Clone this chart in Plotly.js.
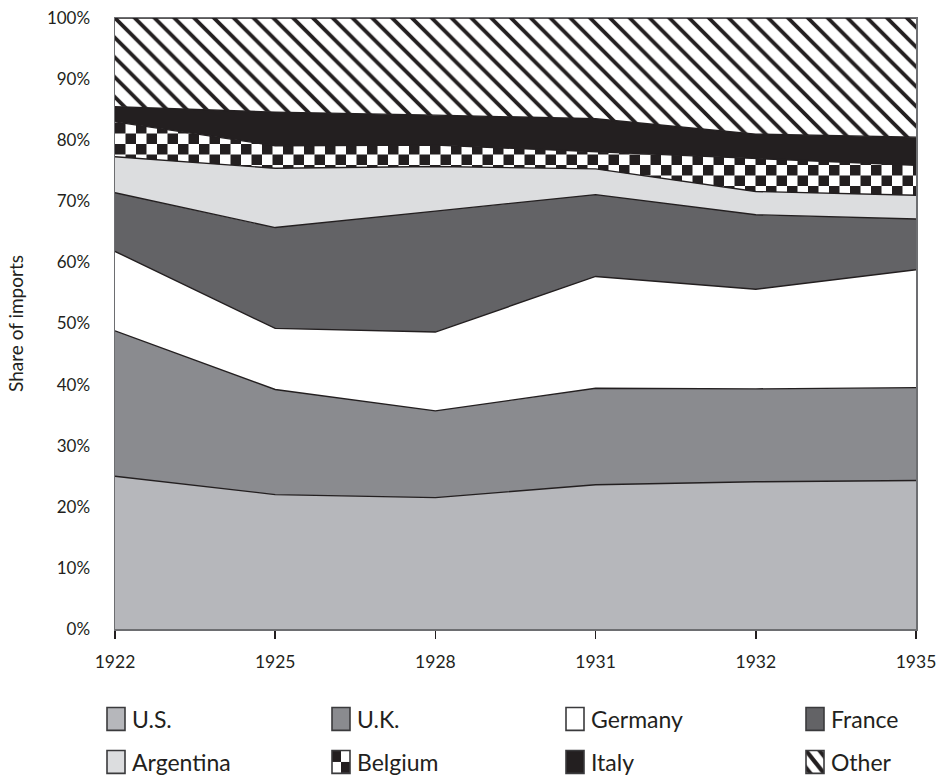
<!DOCTYPE html>
<html><head><meta charset="utf-8">
<script src="https://cdn.plot.ly/plotly-3.0.1.min.js"></script>
<style>html,body{margin:0;padding:0;background:#fff}#chart{width:936px;height:779px}</style>
</head><body><div id="chart"></div>
<script>
const years = ['1922', '1925', '1928', '1931', '1932', '1935'];
const seriesNames = ['U.S.', 'U.K.', 'Germany', 'France', 'Argentina', 'Belgium', 'Italy', 'Other'];
const us        = [25.0, 22.0, 21.5, 23.6, 24.1, 24.3];
const uk        = [23.8, 17.2, 14.2, 15.8, 15.2, 15.2];
const germany   = [13.0, 10.0, 12.9, 18.3, 16.3, 19.3];
const france    = [ 9.6, 16.5, 19.8, 13.4, 12.2,  8.3];
const argentina = [ 5.9,  9.7,  7.3,  4.2,  3.8,  3.9];
const belgium   = [ 5.7,  3.7,  3.5,  2.8,  5.5,  4.9];
const italy     = [ 2.5,  5.5,  4.9,  5.4,  3.9,  4.6];
const other     = [14.5, 15.4, 15.9, 16.5, 19.0, 19.5];
const yTickVals = [0, 10, 20, 30, 40, 50, 60, 70, 80, 90, 100];
const yTickText = ['0%', '10%', '20%', '30%', '40%', '50%', '60%', '70%', '80%', '90%', '100%'];

const seriesValues = [us, uk, germany, france, argentina, belgium, italy, other];
const INK = '#231f20';
const CHECK_KEY = 'rgb(1, 2, 3)';
const fills = ['#b6b7bb', '#8a8b8f', '#ffffff', '#636366', '#dcdddf', CHECK_KEY, INK, '#ffffff'];
const FONT = 'Lato, "Open Sans", sans-serif';

const traces = [];
seriesValues.forEach((vals, i) => {
  const t = {
    type: 'scatter', mode: 'lines', x: years, y: vals, name: seriesNames[i],
    stackgroup: 'one', fillcolor: fills[i],
    line: {color: INK, width: 1.4},
    showlegend: false, hoverinfo: 'skip'
  };
  if (i === 7) {
    t.fillpattern = {shape: '\\', size: 14, solidity: 0.27, fgcolor: INK, bgcolor: '#ffffff', fillmode: 'replace'};
  }
  traces.push(t);
});

// legend entries (4 columns x 2 rows)
const colPx = [92, 317, 551, 791];
const rowPx = [719, 762];
const plotL = 115, plotR = 916, plotT = 18, plotB = 629;
const layoutLegends = {};
seriesNames.forEach((nm, i) => {
  const key = i === 0 ? 'legend' : 'legend' + (i + 1);
  const bar = {
    type: 'bar', x: [years[0]], y: [null], name: nm, legend: key, showlegend: true,
    hoverinfo: 'skip',
    marker: {color: fills[i], line: {color: '#3a3a3c', width: 1.6}}
  };
  if (i === 7) {
    bar.marker.pattern = {shape: '\\', size: 8, solidity: 0.4, fgcolor: INK, bgcolor: '#ffffff', fillmode: 'replace'};
  }
  traces.push(bar);
  const col = i % 4, row = Math.floor(i / 4);
  layoutLegends[key] = {
    x: (colPx[col] - plotL) / (plotR - plotL),
    y: (plotB - rowPx[row]) / (plotB - plotT),
    xanchor: 'left', yanchor: 'middle',
    bgcolor: 'rgba(0,0,0,0)', borderwidth: 0,
    font: {family: FONT, size: 23, color: INK}
  };
});

const layout = Object.assign({
  width: 936, height: 779,
  margin: {l: plotL, r: 936 - plotR, t: plotT, b: 779 - plotB, autoexpand: false},
  paper_bgcolor: '#ffffff', plot_bgcolor: '#ffffff',
  font: {family: FONT, color: INK},
  xaxis: {
    type: 'category', range: [0, years.length - 1],
    showgrid: false, zeroline: false, automargin: false,
    showline: true, mirror: true, linecolor: '#6d6e71', linewidth: 1.5,
    ticks: 'outside', ticklen: 8, tickwidth: 1.5, tickcolor: INK,
    ticklabelstandoff: 8,
    tickfont: {family: FONT, size: 17.5, color: INK}
  },
  yaxis: {
    range: [0, 100], tickvals: yTickVals, ticktext: yTickText,
    showgrid: false, zeroline: false, automargin: false,
    showline: true, mirror: true, linecolor: '#6d6e71', linewidth: 1.5,
    ticks: '', ticklabelstandoff: 20,
    tickfont: {family: FONT, size: 17, color: INK},
    title: {text: 'Share of imports', font: {family: FONT, size: 19, color: INK}, standoff: 18}
  },
  showlegend: true
}, layoutLegends);

function applyStyling(gd) {
  const ns = 'http://www.w3.org/2000/svg';
  const svg = gd.querySelector('svg.main-svg');
  let defs = svg.querySelector('defs');
  if (!defs) { defs = document.createElementNS(ns, 'defs'); svg.insertBefore(defs, svg.firstChild); }
  function checker(id, cell) {
    if (document.getElementById(id)) return;
    const p = document.createElementNS(ns, 'pattern');
    p.setAttribute('id', id);
    p.setAttribute('patternUnits', 'userSpaceOnUse');
    p.setAttribute('width', 2 * cell); p.setAttribute('height', 2 * cell);
    const rects = [[0, 0, '#ffffff', 2 * cell], [0, 0, INK, cell], [cell, cell, INK, cell]];
    rects.forEach(r => {
      const e = document.createElementNS(ns, 'rect');
      e.setAttribute('x', r[0]); e.setAttribute('y', r[1]);
      e.setAttribute('width', r[3]); e.setAttribute('height', r[3]);
      e.setAttribute('fill', r[2]);
      p.appendChild(e);
    });
    defs.appendChild(p);
  }
  checker('chkArea', 10.5);
  checker('chkLegend', 6);
  gd.querySelectorAll('g.legendpoints path').forEach(p => {
    if (!p.getAttribute('d')) return;
    if (p.dataset.leg !== '1') {
      const orig = p.getAttribute('transform') || '';
      p.setAttribute('transform', orig + ' translate(4,0) scale(1.5,1.9)');
      p.style.vectorEffect = 'non-scaling-stroke';
      p.dataset.leg = '1';
    }
  });
  gd.querySelectorAll('path').forEach(p => {
    if (p.style.fill === CHECK_KEY) {
      p.style.fill = p.dataset.leg ? 'url(#chkLegend)' : 'url(#chkArea)';
    }
  });
}

Plotly.newPlot('chart', traces, layout, {staticPlot: true}).then(gd => {
  applyStyling(gd);
  gd.on('plotly_afterplot', () => applyStyling(gd));
  setTimeout(() => applyStyling(gd), 50);
});
</script>
</body></html>
